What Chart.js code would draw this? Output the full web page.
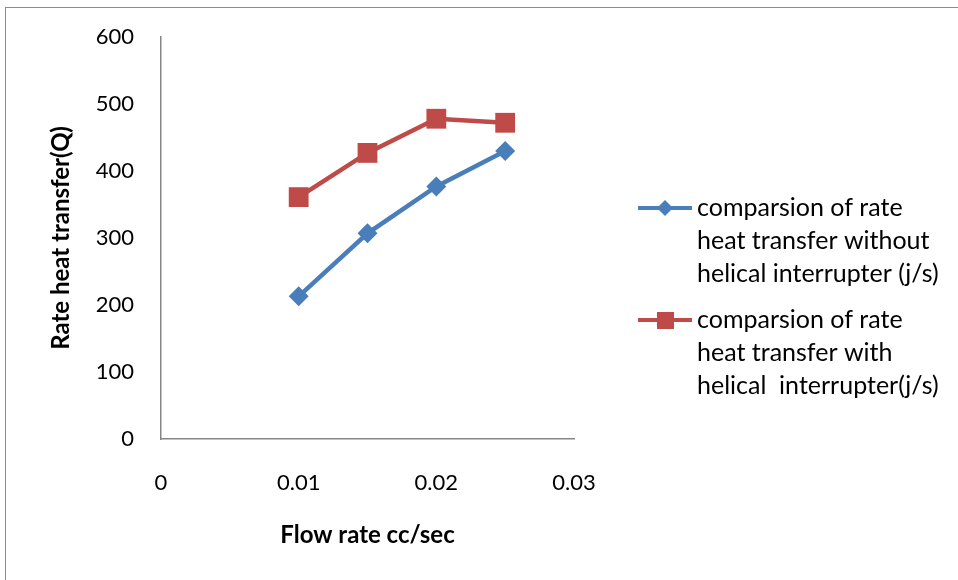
<!DOCTYPE html>
<html>
<head>
<meta charset="utf-8">
<script src="https://cdn.jsdelivr.net/npm/chart.js@4.4.0/dist/chart.umd.min.js"></script>
<style>
  body { margin: 0; background: #fff; }
  #wrap { width: 958px; height: 580px; position: relative; }
</style>
</head>
<body>
<div id="wrap"><canvas id="heatChart" width="958" height="580"></canvas></div>
<script>
// flow rate (cc/sec) and heat transfer rate (j/s)
const flowRates = [0.01, 0.015, 0.02, 0.025];
const withoutInterrupter = [213, 307, 377, 430];
const withInterrupter = [361, 427, 478, 472];
const yTicks = [0, 100, 200, 300, 400, 500, 600];
const xTicks = [0, 0.01, 0.02, 0.03];

const legendLabels = [
    ['comparsion of rate', 'heat transfer without', 'helical interrupter (j/s)'],
    ['comparsion of rate', 'heat transfer with', 'helical  interrupter(j/s)']
];

const BLUE = '#4a7ebb';
const RED = '#be4b48';
const FONT = 'Lato, "Open Sans", sans-serif';

function toPoints(ys) {
    return flowRates.map((x, i) => ({ x: x, y: ys[i] }));
}

// frame round the chart + custom multi-line legend on the right
const extras = {
    id: 'extras',
    afterDraw(chart) {
        const ctx = chart.ctx;
        ctx.save();
        ctx.strokeStyle = '#8c8c8c';
        ctx.lineWidth = 1;
        ctx.strokeRect(5.5, 7.5, 2000, 2000);

        const entries = [
            { color: BLUE, shape: 'diamond', y: 208 },
            { color: RED, shape: 'square', y: 320 }
        ];
        entries.forEach((e, i) => {
            ctx.strokeStyle = e.color;
            ctx.fillStyle = e.color;
            ctx.lineWidth = 4;
            ctx.beginPath();
            ctx.moveTo(638, e.y);
            ctx.lineTo(692, e.y);
            ctx.stroke();
            ctx.beginPath();
            if (e.shape === 'diamond') {
                ctx.moveTo(665, e.y - 8);
                ctx.lineTo(673, e.y);
                ctx.lineTo(665, e.y + 8);
                ctx.lineTo(657, e.y);
                ctx.closePath();
            } else {
                ctx.rect(657, e.y - 8, 17, 17);
            }
            ctx.fill();

            ctx.fillStyle = '#000';
            ctx.font = '25px ' + FONT;
            ctx.textBaseline = 'middle';
            ctx.textAlign = 'left';
            legendLabels[i].forEach((line, j) => {
                ctx.fillText(line, 697, e.y + j * 33);
            });
        });
        ctx.restore();
    }
};

new Chart(document.getElementById('heatChart'), {
    type: 'scatter',
    data: {
        datasets: [
            {
                label: legendLabels[0].join(' '),
                data: toPoints(withoutInterrupter),
                showLine: true,
                borderColor: BLUE,
                backgroundColor: BLUE,
                borderWidth: 4.5,
                pointStyle: 'rectRot',
                pointRadius: 10,
                pointHoverRadius: 10,
                pointBorderWidth: 0
            },
            {
                label: legendLabels[1].join(' '),
                data: toPoints(withInterrupter),
                showLine: true,
                borderColor: RED,
                backgroundColor: RED,
                borderWidth: 4.5,
                pointStyle: 'rect',
                pointRadius: 14,
                pointHoverRadius: 14,
                pointBorderWidth: 0
            }
        ]
    },
    options: {
        responsive: false,
        animation: false,
        layout: { padding: { left: 0, right: 384, top: 37, bottom: 0 } },
        plugins: {
            legend: { display: false },
            tooltip: { enabled: false }
        },
        scales: {
            x: {
                type: 'linear',
                min: 0,
                max: 0.03,
                afterFit: s => { s.height = 141; },
                afterBuildTicks: s => { s.ticks = xTicks.map(v => ({ value: v })); },
                grid: { display: false, drawTicks: false },
                border: { color: '#868686', width: 1.5 },
                ticks: {
                    padding: 31,
                    color: '#000',
                    font: { family: FONT, size: 22 },
                    callback: v => v === 0 ? '0' : v.toFixed(2)
                },
                title: {
                    display: true,
                    text: 'Flow rate cc/sec',
                    color: '#000',
                    font: { family: FONT, size: 24, weight: 'bold' },
                    padding: { top: 0, bottom: 30 }
                }
            },
            y: {
                min: 0,
                max: 600,
                afterFit: s => { s.width = 161; s.paddingTop = 0; s.paddingBottom = 0; },
                afterBuildTicks: s => { s.ticks = yTicks.map(v => ({ value: v })); },
                grid: { display: false, drawTicks: false },
                border: { color: '#868686', width: 1.5 },
                ticks: {
                    padding: 27,
                    color: '#000',
                    font: { family: FONT, size: 22 }
                },
                title: {
                    display: true,
                    text: 'Rate heat transfer(Q)',
                    color: '#000',
                    font: { family: FONT, size: 24, weight: 'bold' },
                    padding: { top: 47, bottom: 0 }
                }
            }
        }
    },
    plugins: [extras]
});
</script>
</body>
</html>
